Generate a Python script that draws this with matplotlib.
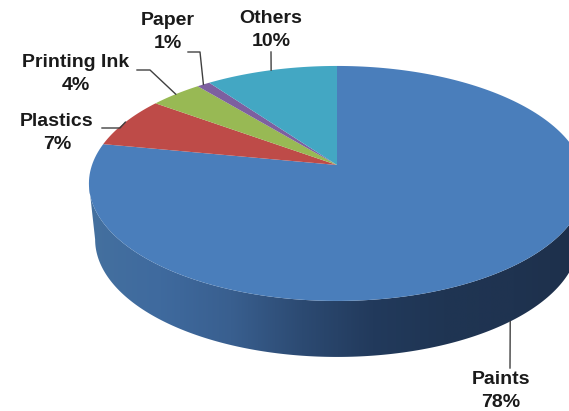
from matplotlib import pyplot as plt
from matplotlib.colors import LinearSegmentedColormap
from matplotlib.patches import Polygon
import numpy as np

names = ['Paints', 'Plastics', 'Printing Ink', 'Paper', 'Others']
values = [78, 7, 4, 1, 10]
colors = ['#4a7ebb', '#be4b48', '#98b954', '#7d60a0', '#43a7c3']
wall_colors = ['#44709f', '#3f6a9e', '#395f8f', '#2c4a72', '#223a5c', '#1f3553', '#1f3350', '#1d2f4a']

# label centres and the start of each leader line, in pixels
label_xy = [(501, 391), (57, 133), (76, 74), (168, 32), (271, 30)]
leader_start = [(510, 368), (102, 128), (137, 70), (188, 52), (271, 52)]
leader_elbow = [None, (120, 128), (150, 70), (200, 52), None]

center_x, center_y = 337, 165
radius_x, radius_y = 245, 114.6
tilt = 0.157
depth = 56
wall_shrink = 0.975


def rimPoint(frac):
    # fraction of the way round, clockwise from 12 o'clock, with a bit of perspective
    phi = 2 * np.pi * np.asarray(frac)
    x = np.sin(phi)
    y = np.cos(phi)
    div = 1 + tilt * y
    return center_x + radius_x * x / div, center_y - radius_y * y / div


def drawWall(ax):
    xs, ys = rimPoint(np.linspace(0, 1, 721))
    left = np.argmin(xs)
    right = np.argmax(xs)
    top_x, top_y = xs[right:left + 1], ys[right:left + 1]
    low_x = center_x + (top_x - center_x) * wall_shrink
    low_y = top_y + depth
    pts = np.column_stack([np.r_[top_x, low_x[::-1]], np.r_[top_y, low_y[::-1]]])
    wall = Polygon(pts, closed=True, facecolor='none', edgecolor='none')
    ax.add_patch(wall)

    cmap = LinearSegmentedColormap.from_list('wall', wall_colors)
    grad = np.linspace(0, 1, 256).reshape(1, -1)
    img = ax.imshow(grad, cmap=cmap, aspect='auto', zorder=1,
                    extent=(xs.min(), xs.max(), 370, 150))
    img.set_clip_path(wall)


def drawSlices(ax):
    edges = np.cumsum([0] + values) / sum(values)
    for i in range(len(values)):
        arc = np.linspace(edges[i], edges[i + 1], 200)
        xs, ys = rimPoint(arc)
        pts = np.column_stack([np.r_[center_x, xs], np.r_[center_y, ys]])
        ax.add_patch(Polygon(pts, closed=True, facecolor=colors[i],
                             edgecolor='none', zorder=2))
    return (edges[:-1] + edges[1:]) / 2


def drawLabels(ax, mids):
    for i in range(len(names)):
        end_x, end_y = rimPoint(mids[i])
        # front slices get their leader from the bottom edge of the wall
        if mids[i] > 0.25 and mids[i] < 0.75:
            end_x = center_x + (end_x - center_x) * wall_shrink
            end_y += depth
        line_x = [leader_start[i][0]]
        line_y = [leader_start[i][1]]
        if leader_elbow[i] is not None:
            line_x.append(leader_elbow[i][0])
            line_y.append(leader_elbow[i][1])
        line_x.append(end_x)
        line_y.append(end_y)
        ax.plot(line_x, line_y, color='#404040', lw=1.0, zorder=3)

        ax.text(label_xy[i][0], label_xy[i][1], names[i] + '\n' + str(values[i]) + '%',
                ha='center', va='center', fontsize=14, fontweight='bold',
                family='Liberation Sans', color='#1a1a1a', linespacing=1.42)


def main():
    fig = plt.figure(figsize=(5.69, 4.11), dpi=100)
    ax = fig.add_axes([0, 0, 1, 1])
    drawWall(ax)
    mids = drawSlices(ax)
    drawLabels(ax, mids)
    ax.set_xlim(0, 569)
    ax.set_ylim(411, 0)
    ax.axis('off')
    plt.savefig('out.png', dpi=100)


if __name__ == "__main__":
    main()
